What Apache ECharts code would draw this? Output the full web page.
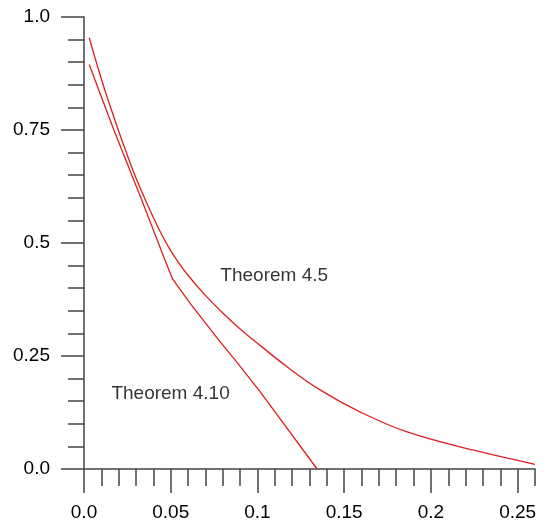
<!DOCTYPE html>
<html>
<head>
<meta charset="utf-8">
<script src="https://cdn.jsdelivr.net/npm/echarts@6/dist/echarts.min.js"></script>
<style>
  html, body { margin: 0; padding: 0; background: #fff; }
  #chart { width: 548px; height: 525px; }
</style>
</head>
<body>
<div id="chart"></div>
<script>
// Bound from Theorem 4.5 (smooth curve)
const thm45X = [0.003, 0.0133, 0.0267, 0.0354, 0.043, 0.0492, 0.0548, 0.0603, 0.070, 0.080, 0.090, 0.0978, 0.1171, 0.1363, 0.1593, 0.1863, 0.2247, 0.26];
const thm45Y = [0.954, 0.823, 0.676, 0.595, 0.532, 0.488, 0.455, 0.427, 0.384, 0.345, 0.3095, 0.285, 0.226, 0.1745, 0.126, 0.082, 0.0415, 0.0104];

// Bound from Theorem 4.10 (piecewise, with a kink near 0.05)
const thm410X = [0.003, 0.0171, 0.0325, 0.0469, 0.0511, 0.0613, 0.0767, 0.0882, 0.1017, 0.1344];
const thm410Y = [0.895, 0.751, 0.603, 0.460, 0.420, 0.366, 0.290, 0.236, 0.170, 0.0];

// Curve annotations: [x, y, text]
const annotations = [
  [0.0786, 0.427, 'Theorem 4.5'],
  [0.0158, 0.166, 'Theorem 4.10']
];

// Tick labels
const xTickValues = [0, 0.05, 0.1, 0.15, 0.2, 0.25];
const xTickLabels = ['0.0', '0.05', '0.1', '0.15', '0.2', '0.25'];
const yTickValues = [0, 0.25, 0.5, 0.75, 1.0];
const yTickLabels = ['0.0', '0.25', '0.5', '0.75', '1.0'];

const axisColor = '#444';
const textColor = '#000';
const fontFamily = 'Liberation Sans, Arial, Helvetica, sans-serif';
const fontSize = 19;
const red = '#dd1f1f';

function zip(xs, ys) { return xs.map((x, i) => [x, ys[i]]); }
function labelFor(values, labels, v) {
  for (let i = 0; i < values.length; i++) {
    if (Math.abs(values[i] - v) < 1e-9) return labels[i];
  }
  return '';
}

const chart = echarts.init(document.getElementById('chart'), null, { renderer: 'canvas' });

chart.setOption({
  animation: false,
  backgroundColor: '#fff',
  grid: { left: 84, right: 13, top: 17, bottom: 56, outerBoundsMode: 'none' },
  xAxis: [
    {
      // short ticks every 0.01 plus labels
      type: 'value', min: 0, max: 0.26, interval: 0.01,
      axisLine: { show: true, lineStyle: { color: axisColor, width: 1.5 } },
      axisTick: { show: true, inside: false, length: 17, lineStyle: { color: axisColor, width: 1.5 } },
      axisLabel: {
        margin: 34, color: textColor, fontSize: fontSize, fontFamily: fontFamily,
        formatter: v => labelFor(xTickValues, xTickLabels, v)
      },
      splitLine: { show: false }
    },
    {
      // long ticks at labelled values
      type: 'value', min: 0, max: 0.26, position: 'bottom',
      axisLine: { show: false },
      axisTick: { show: true, length: 24, customValues: xTickValues, lineStyle: { color: axisColor, width: 1.5 } },
      axisLabel: { show: false },
      splitLine: { show: false }
    }
  ],
  yAxis: [
    {
      type: 'value', min: 0, max: 1, interval: 0.05,
      axisLine: { show: true, lineStyle: { color: axisColor, width: 1.5 } },
      axisTick: { show: true, inside: false, length: 16, lineStyle: { color: axisColor, width: 1.5 } },
      axisLabel: {
        margin: 34, color: textColor, fontSize: fontSize, fontFamily: fontFamily,
        formatter: v => labelFor(yTickValues, yTickLabels, v)
      },
      splitLine: { show: false }
    },
    {
      type: 'value', min: 0, max: 1, position: 'left',
      axisLine: { show: false },
      axisTick: { show: true, length: 23, customValues: yTickValues, lineStyle: { color: axisColor, width: 1.5 } },
      axisLabel: { show: false },
      splitLine: { show: false }
    }
  ],
  series: [
    {
      name: 'Theorem 4.5', type: 'line', data: zip(thm45X, thm45Y),
      smooth: 0.4, showSymbol: false, symbol: 'none',
      lineStyle: { color: red, width: 1.3 }
    },
    {
      name: 'Theorem 4.10', type: 'line', data: zip(thm410X, thm410Y),
      smooth: false, showSymbol: false, symbol: 'none',
      lineStyle: { color: red, width: 1.3 }
    },
    {
      type: 'scatter', symbolSize: 0, silent: true,
      data: annotations.map(a => ({ value: [a[0], a[1]], name: a[2] })),
      label: {
        show: true, position: 'right', distance: 0,
        formatter: p => p.name,
        color: textColor, fontSize: fontSize, fontFamily: fontFamily
      }
    }
  ]
});
</script>
</body>
</html>
